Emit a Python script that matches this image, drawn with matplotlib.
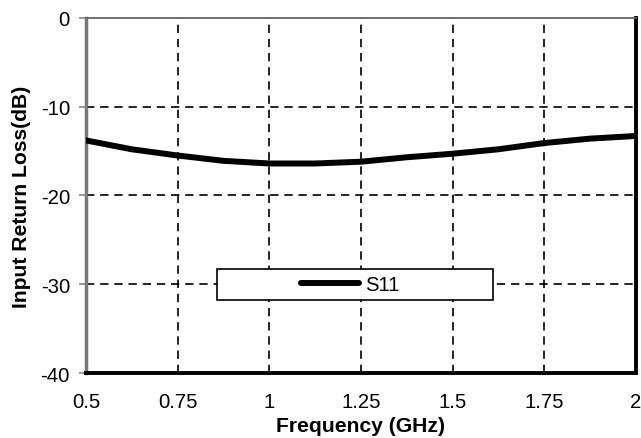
import matplotlib
matplotlib.use("Agg")
import matplotlib.pyplot as plt
from matplotlib.patches import Rectangle

plt.rcParams['font.family'] = ['Liberation Sans', 'DejaVu Sans']
plt.rcParams['axes.unicode_minus'] = False

# S11
freq = [0.5, 0.625, 0.75, 0.875, 1.0, 1.125, 1.25, 1.375, 1.5, 1.625, 1.75, 1.875, 2.0]
s11 = [-13.8, -14.8, -15.5, -16.1, -16.4, -16.4, -16.2, -15.7, -15.3, -14.8, -14.1, -13.6, -13.3]
xticks = [0.5, 0.75, 1, 1.25, 1.5, 1.75, 2]
xlabels = ["0.5", "0.75", "1", "1.25", "1.5", "1.75", "2"]
yticks = [0, -10, -20, -30, -40]

fig = plt.figure(figsize=(6.41, 4.39), dpi=100)
ax = fig.add_axes([0.134, 0.148, 0.858, 0.809])

ax.plot(freq, s11, color="black", lw=4.3, solid_capstyle="round",
        solid_joinstyle="round", label="S11", zorder=4)

ax.set_xlim(0.5, 2)
ax.set_ylim(-40, 0)
ax.set_xticks(xticks)
ax.set_xticklabels(xlabels)
ax.set_yticks(yticks)
ax.tick_params(axis="x", length=0, labelsize=14.6, pad=14)
ax.tick_params(axis="y", length=5, width=1.2, color="#888888", labelsize=14.6, pad=6.5)

# dashed grid only at the inner ticks
for x in xticks[1:-1]:
    ax.axvline(x, color="black", linestyle=(0, (5, 3.5)), linewidth=1.2, zorder=2)
for y in yticks[1:-1]:
    ax.axhline(y, color="black", linestyle=(0, (5, 3.5)), linewidth=1.2, zorder=2)

ax.spines["top"].set_color("#666666")
ax.spines["top"].set_linewidth(1.3)
ax.spines["left"].set_color("#777777")
ax.spines["left"].set_linewidth(2.5)
ax.spines["bottom"].set_color("black")
ax.spines["bottom"].set_linewidth(2.8)
ax.spines["right"].set_color("black")
ax.spines["right"].set_linewidth(2.8)

ax.set_xlabel("Frequency (GHz)", fontsize=15.2, fontweight="bold", labelpad=3)
ax.set_ylabel("Input Return Loss(dB)", fontsize=15.2, fontweight="bold", labelpad=7)

# legend box
box = Rectangle((0.238, 0.206), 0.502, 0.087, transform=ax.transAxes,
                facecolor="white", edgecolor="black", lw=1.2, zorder=5)
ax.add_patch(box)
leg = ax.legend(loc="center left", bbox_to_anchor=(0.392, 0.25), frameon=False,
                fontsize=14.6, handlelength=2.85, handletextpad=0.3, borderpad=0,
                borderaxespad=0)
leg.set_zorder(6)

fig.savefig("out.png", dpi=100)
